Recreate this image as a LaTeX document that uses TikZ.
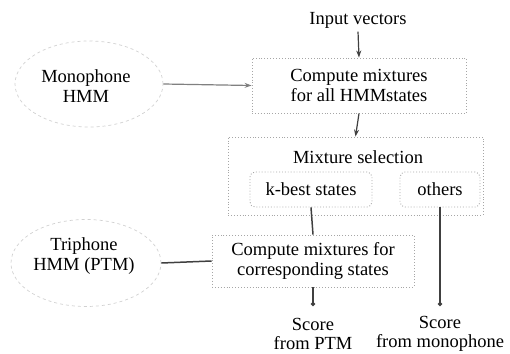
\documentclass[tikz,border=0pt]{standalone}
\usepackage{fontspec}
\setmainfont{Liberation Serif}
\usetikzlibrary{shapes.geometric,arrows.meta}
\begin{document}
\begin{tikzpicture}[x=1pt,y=-1pt,
  every node/.style={font=\fontsize{18.5}{19.5}\selectfont, text=black, align=center},
  dbox/.style={draw=black!35, dotted, line width=0.9pt, rectangle, inner sep=0pt},
  rbox/.style={dbox, rounded corners=5pt},
  oval/.style={draw=black!18, dashed, line width=0.7pt, ellipse, inner sep=0pt},
  arr/.style={draw=black!75, line width=1.2pt, -{Stealth[length=7pt,width=5pt]}},
  lin/.style={draw=black!75, line width=1.5pt},
  dotend/.style={draw=black!75, line width=1.5pt, -{Circle[length=4pt]}}]
\useasboundingbox (0,0) rectangle (510,353);
\node (input) at (358,20) {Input vectors};
\node[dbox, minimum width=214pt, minimum height=55pt] (box1) at (359,85.5) {Compute mixtures\\for all HMMstates};
\node[oval, minimum width=148pt, minimum height=86pt] (mono) at (89,84) {};
\node at (86,86) {Monophone\\HMM};
\node[dbox, minimum width=255pt, minimum height=78pt] (sel) at (355.5,176) {};
\node (seltxt) at (358,157) {Mixture selection};
\node[rbox, minimum width=122pt, minimum height=35pt] (kbest) at (311,189.5) {k-best states};
\node[rbox, minimum width=80pt, minimum height=35pt] (others) at (440,189.5) {others};
\node[dbox, minimum width=202pt, minimum height=52pt] (box2) at (313,261) {Compute mixtures for\\corresponding states};
\node[oval, minimum width=150pt, minimum height=87pt] (tri) at (86,263) {};
\node at (84,256) {Triphone\\HMM (PTM)};
\node (score1) at (313,334) {Score\\from PTM};
\node (score2) at (440,334) {Score\\from monophone};
\coordinate (end1) at (313,306);
\coordinate (end2) at (440,306);
\draw[arr] (input.south) -- (box1.north);
\draw[arr] (box1.south) -- (sel.north);
\draw[arr, draw=black!50] (mono.east) -- (box1.west);
\draw[lin] (kbest.south) -- (box2.north);
\draw[lin] (tri.east) -- (box2.west);
\draw[dotend] (box2.south) -- (end1);
\draw[dotend] (others.south) -- (end2);
\end{tikzpicture}
\end{document}
